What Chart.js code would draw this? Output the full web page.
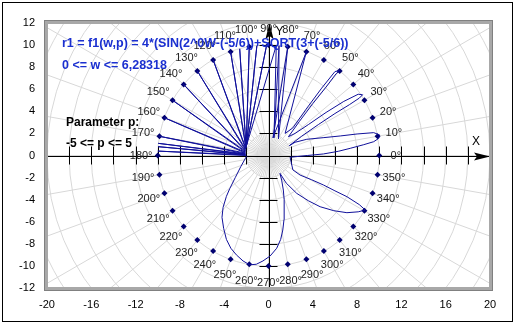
<!DOCTYPE html>
<html>
<head>
<meta charset="utf-8">
<script src="https://cdn.jsdelivr.net/npm/chart.js@4"></script>
<style>
  html, body { margin: 0; padding: 0; background: #fff; }
  #wrap { width: 515px; height: 324px; position: relative; }
</style>
</head>
<body>
<div id="wrap"><canvas id="c" width="515" height="324"></canvas></div>
<script>
// Axis tick values
const xTickValues = [-20, -16, -12, -8, -4, 0, 4, 8, 12, 16, 20];
const yTickValues = [-12, -10, -8, -6, -4, -2, 0, 2, 4, 6, 8, 10, 12];

// Angle markers on the reference circle
const markerAngles = [0,10,20,30,40,50,60,70,80,90,100,110,120,130,140,150,160,170,
                      180,190,200,210,220,230,240,250,260,270,280,290,300,310,320,330,340,350];
const markerRadius = 10;

// Curve r1 = f1(w,p), plotted points (x, y)
const curveX = [
  1.95, 3.5, 4.96, 6.3, 7.38, 8.6, 9.5, 9.95, 10.04, 9.5, 8.0, 6.48, 5.0, 3.46, 2.4, 1.88,
  3.0, 4.5, 6.0, 7.3, 8.2, 8.5, 8.1, 6.8, 5.2, 3.6, 2.4, 1.8,
  2.8, 4.0, 5.2, 6.1, 6.45, 6.0, 4.8, 3.4, 2.2, 1.5,
  3.42, 0.4, 1.74, 0.9, 0.95, 0.5, 0.7, -2.0,
  -0.17, -2.0, -1.05, -2.0, -1.74, -2.02, -2.6, -2.03, -3.42, -2.04, -5.0, -2.05, -6.43, -2.06,
  -7.66, -2.07, -8.66, -2.08, -9.4, -2.08, -9.85, -2.08, -9.95, -2.08, -9.97, -2.07, -9.99, -2.05,
  -2.0, -2.5, -3.0, -3.5, -3.8, -4.1, -4.2, -4.05, -3.8, -3.4, -2.9, -2.3, -1.7, -1.1, -0.5,
  0.15, 0.74, 1.1, 1.29, 1.4, 1.43, 1.4, 1.34, 1.2, 1.04,
  1.6, 2.55, 3.6, 4.66, 5.9, 7.08, 8.1, 8.74, 8.2, 7.08, 6.0, 4.96, 3.9, 2.85, 2.2, 1.95
];
const curveY = [
  -0.16, 0.0, 0.14, 0.38, 0.65, 0.98, 1.25, 1.55, 1.86, 2.07, 1.95, 1.77, 1.62, 1.47, 1.2, 0.89,
  1.75, 2.8, 3.8, 4.6, 5.2, 5.5, 5.55, 4.9, 3.9, 2.8, 2.0, 1.7,
  3.1, 4.7, 6.2, 7.4, 7.7, 7.6, 6.1, 4.2, 2.5, 2.0,
  9.4, 1.6, 9.85, 1.5, 9.95, 1.6, 9.97, 0.85,
  9.99, 0.85, 9.94, 0.8, 9.85, 0.75, 9.66, 0.7, 9.4, 0.65, 8.66, 0.55, 7.66, 0.45,
  6.43, 0.38, 5.0, 0.3, 3.42, 0.22, 1.74, 0.15, 1.1, 0.1, 0.8, 0.05, 0.4, 0.0,
  -0.1, -1.0, -2.0, -3.0, -3.7, -4.7, -5.6, -6.6, -7.6, -8.4, -9.0, -9.55, -9.9, -9.85, -9.55,
  -9.1, -8.4, -7.6, -6.75, -5.8, -4.94, -4.0, -3.13, -2.3, -1.62,
  -2.5, -3.43, -4.1, -4.64, -5.0, -5.18, -5.1, -4.94, -4.45, -3.73, -3.2, -2.67, -2.2, -1.77, -1.3, -0.16
];

// Texts written inside the plot
const formulaLines = ['r1 = f1(w,p) = 4*(SIN(2^0W-(-5/6))+SQRT(3+(-5/6))', '0 <= w <= 6,28318'];
const paramLines = ['Parameter p:', '-5 <= p <= 5'];

const toXY = (deg, r) => ({ x: r * Math.cos(deg * Math.PI / 180), y: r * Math.sin(deg * Math.PI / 180) });
const curveData = curveX.map((v, i) => ({ x: v, y: curveY[i] }));
const markerData = markerAngles.map(a => toXY(a, markerRadius));

const FONT = '"Liberation Sans", Arial, sans-serif';

// Polar grid, plot frame, axes with arrows, angle labels, texts
const decor = {
  id: 'decor',
  beforeDatasetsDraw(chart) {
    const { ctx, chartArea: a, scales: { x, y } } = chart;
    const cx = x.getPixelForValue(0), cy = y.getPixelForValue(0);
    const ux = x.getPixelForValue(1) - cx;
    ctx.save();
    ctx.beginPath();
    ctx.rect(a.left, a.top, a.right - a.left, a.bottom - a.top);
    ctx.clip();
    ctx.strokeStyle = '#d8d8d8';
    ctx.lineWidth = 1;
    for (let r = 2; r <= 24; r += 2) {
      ctx.beginPath();
      ctx.arc(cx, cy, r * ux, 0, Math.PI * 2);
      ctx.stroke();
    }
    for (let d = 0; d < 360; d += 5) {
      const t = d * Math.PI / 180;
      const len = d % 10 === 0 ? 30 : 2;
      ctx.beginPath();
      ctx.moveTo(cx, cy);
      ctx.lineTo(cx + Math.cos(t) * len * ux, cy - Math.sin(t) * len * ux);
      ctx.stroke();
    }
    // axes
    ctx.strokeStyle = '#000';
    ctx.fillStyle = '#000';
    ctx.lineWidth = 1;
    ctx.beginPath();
    ctx.moveTo(a.left, Math.round(cy) + 0.5);
    ctx.lineTo(a.right, Math.round(cy) + 0.5);
    ctx.moveTo(Math.round(cx) + 0.5, a.top);
    ctx.lineTo(Math.round(cx) + 0.5, a.bottom);
    for (let v = -18; v <= 18; v += 2) {
      if (v === 0) continue;
      const px = Math.round(x.getPixelForValue(v)) + 0.5;
      ctx.moveTo(px, cy - 9);
      ctx.lineTo(px, cy + 9);
    }
    for (let v = -10; v <= 10; v += 2) {
      if (v === 0) continue;
      const py = Math.round(y.getPixelForValue(v)) + 0.5;
      ctx.moveTo(cx - 9, py);
      ctx.lineTo(cx + 9, py);
    }
    ctx.stroke();
    // arrowheads
    const ay = Math.round(cy) + 0.5;
    ctx.beginPath();
    ctx.moveTo(a.right, ay);
    ctx.lineTo(a.right - 16, ay - 4);
    ctx.lineTo(a.right - 13, ay);
    ctx.lineTo(a.right - 16, ay + 4);
    ctx.closePath();
    ctx.fill();
    const axx = Math.round(cx) + 0.5;
    ctx.beginPath();
    ctx.moveTo(axx, a.top);
    ctx.lineTo(axx - 4, a.top + 16);
    ctx.lineTo(axx, a.top + 13);
    ctx.lineTo(axx + 4, a.top + 16);
    ctx.closePath();
    ctx.fill();
    ctx.restore();
  },
  afterDatasetsDraw(chart) {
    const { ctx, chartArea: a, scales: { x, y } } = chart;
    const cx = x.getPixelForValue(0), cy = y.getPixelForValue(0);
    ctx.save();
    ctx.font = '12px ' + FONT;
    ctx.fillStyle = '#000';
    ctx.textAlign = 'center';
    ctx.textBaseline = 'middle';
    ctx.fillText('X', a.right - 14, cy - 14);
    ctx.fillText('Y', cx + 11, a.top + 9);
    // angle labels
    ctx.font = '11px ' + FONT;
    ctx.fillStyle = '#222';
    markerAngles.forEach(d => {
      const p = toXY(d, 11.5);
      ctx.fillText(d + '°', x.getPixelForValue(p.x), y.getPixelForValue(p.y));
    });
    // texts
    ctx.textAlign = 'left';
    ctx.font = 'bold 12.5px ' + FONT;
    ctx.fillStyle = '#1a2fd0';
    ctx.fillText(formulaLines[0], 62, 44);
    ctx.fillText(formulaLines[1], 62, 66);
    ctx.font = 'bold 12px ' + FONT;
    ctx.fillStyle = '#000';
    ctx.fillText(paramLines[0], 66, 123);
    ctx.fillText(paramLines[1], 66, 144);
    // frame of plot area
    ctx.strokeStyle = '#a8a8a8';
    ctx.lineWidth = 4;
    ctx.strokeRect(a.left - 1, a.top - 1, a.right - a.left + 2, a.bottom - a.top + 2);
    ctx.strokeStyle = '#808080';
    ctx.lineWidth = 1;
    ctx.strokeRect(a.left - 2.5, a.top - 2.5, a.right - a.left + 5, a.bottom - a.top + 5);
    // outer border
    ctx.strokeStyle = '#000';
    ctx.strokeRect(2.5, 2.5, 510, 319);
    ctx.restore();
  }
};

new Chart(document.getElementById('c'), {
  type: 'scatter',
  data: {
    datasets: [
      {
        data: curveData,
        showLine: true,
        borderColor: '#10109a',
        borderWidth: 1,
        pointRadius: 0,
        tension: 0
      },
      {
        data: markerData,
        showLine: false,
        pointStyle: 'rectRot',
        pointRadius: 3,
        backgroundColor: '#000070',
        borderColor: '#000070',
        borderWidth: 0
      }
    ]
  },
  options: {
    responsive: false,
    animation: false,
    devicePixelRatio: 1,
    layout: { padding: { top: 23, right: 25, left: 0, bottom: 0 } },
    plugins: { legend: { display: false }, tooltip: { enabled: false } },
    scales: {
      x: {
        type: 'linear', min: -20, max: 20,
        afterBuildTicks: s => { s.ticks = xTickValues.map(v => ({ value: v })); },
        afterFit: s => { s.height = 36; },
        grid: { display: false, drawTicks: false },
        border: { display: false },
        ticks: { padding: 10, color: '#000', font: { family: FONT, size: 11 } }
      },
      y: {
        type: 'linear', min: -12, max: 12,
        afterBuildTicks: s => { s.ticks = yTickValues.map(v => ({ value: v })); },
        afterFit: s => { s.width = 47; },
        grid: { display: false, drawTicks: false },
        border: { display: false },
        ticks: { padding: 12, color: '#000', font: { family: FONT, size: 11 } }
      }
    }
  },
  plugins: [decor]
});
</script>
</body>
</html>
